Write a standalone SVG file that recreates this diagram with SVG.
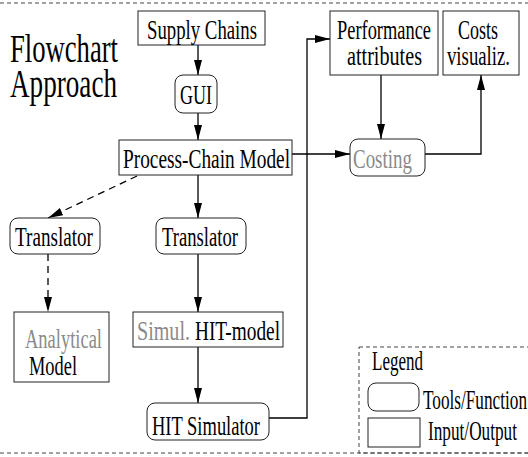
<svg xmlns="http://www.w3.org/2000/svg" width="528" height="457" viewBox="0 0 528 457">
<style>
text{font-family:'Liberation Serif','Times New Roman',Times,serif;font-size:27px;fill:#000}
.title{font-size:39px}
.gray{fill:#8a8a8a}
.io{fill:#fff;stroke:#222;stroke-width:1}
.tool{fill:#fff;stroke:#222;stroke-width:1}
.edge{fill:none;stroke:#000;stroke-width:1.3}
.dash{fill:none;stroke:#000;stroke-width:1.3;stroke-dasharray:7,5}
.frame{fill:none;stroke:#444;stroke-width:1;stroke-dasharray:4,3}
</style>
<defs>
<marker id="ah" markerUnits="userSpaceOnUse" markerWidth="16" markerHeight="10" refX="15" refY="4" orient="auto">
<path d="M0,0 L15,4 L0,8 z" fill="#000"/>
</marker>
</defs>
<rect width="528" height="457" fill="#fff"/>
<line class="frame" x1="0" y1="3" x2="528" y2="3"/>
<line class="frame" x1="0" y1="453" x2="528" y2="453"/>
<g font-family="Liberation Serif, serif">
<text class="title" x="10" y="62" textLength="108" lengthAdjust="spacingAndGlyphs">Flowchart</text>
<text class="title" x="10" y="97" textLength="107" lengthAdjust="spacingAndGlyphs">Approach</text>
</g>
<g id="connectors">
<path class="edge" d="M198,45 V75" marker-end="url(#ah)"/>
<path class="edge" d="M198,113 V140" marker-end="url(#ah)"/>
<path class="edge" d="M292,154 H350" marker-end="url(#ah)"/>
<path class="edge" d="M381,75 V139" marker-end="url(#ah)"/>
<path class="edge" d="M425,154 H481 V75" marker-end="url(#ah)"/>
<path class="edge" d="M269,418 H307 V39 H330" marker-end="url(#ah)"/>
<path class="edge" d="M198,175 V218" marker-end="url(#ah)"/>
<path class="edge" d="M198,254 V312" marker-end="url(#ah)"/>
<path class="edge" d="M198,347 V403" marker-end="url(#ah)"/>
<path class="dash" d="M137,176 L48,218" marker-end="url(#ah)"/>
<path class="dash" d="M48,254 V312" marker-end="url(#ah)"/>
</g>
<g id="supply-chains">
<rect class="io" x="138" y="11" width="127" height="34"/>
<text x="147" y="39" textLength="110" lengthAdjust="spacingAndGlyphs">Supply Chains</text>
</g>
<g id="gui">
<rect class="tool" x="175" y="75" width="42" height="38" rx="8"/>
<text x="180" y="104" textLength="32" lengthAdjust="spacingAndGlyphs">GUI</text>
</g>
<g id="process-chain-model">
<rect class="io" x="119" y="140" width="173" height="35"/>
<text x="123" y="168" textLength="167" lengthAdjust="spacingAndGlyphs">Process-Chain Model</text>
</g>
<g id="performance-attributes">
<rect class="io" x="330" y="11" width="108" height="64"/>
<text x="337" y="39" textLength="94" lengthAdjust="spacingAndGlyphs">Performance</text>
<text x="347" y="65" textLength="75" lengthAdjust="spacingAndGlyphs">attributes</text>
</g>
<g id="costs-visualiz">
<rect class="io" x="443" y="11" width="76" height="64"/>
<text x="458" y="39" textLength="40" lengthAdjust="spacingAndGlyphs">Costs</text>
<text x="447" y="65" textLength="63" lengthAdjust="spacingAndGlyphs">visualiz.</text>
</g>
<g id="costing">
<rect class="tool" x="350" y="139" width="75" height="37" rx="8"/>
<text class="gray" x="353" y="168" textLength="59" lengthAdjust="spacingAndGlyphs">Costing</text>
</g>
<g id="translator-left">
<rect class="tool" x="10" y="218" width="90" height="36" rx="8"/>
<text x="15" y="246" textLength="78" lengthAdjust="spacingAndGlyphs">Translator</text>
</g>
<g id="translator-mid">
<rect class="tool" x="156" y="218" width="90" height="36" rx="8"/>
<text x="162" y="246" textLength="76" lengthAdjust="spacingAndGlyphs">Translator</text>
</g>
<g id="analytical-model">
<rect class="io" x="14" y="312" width="95" height="70"/>
<text class="gray" x="25" y="348" textLength="77" lengthAdjust="spacingAndGlyphs">Analytical</text>
<text x="29" y="375" textLength="48" lengthAdjust="spacingAndGlyphs">Model</text>
</g>
<g id="simul-hit-model">
<rect class="io" x="133" y="312" width="150" height="35"/>
<text class="gray" x="137" y="340" textLength="53" lengthAdjust="spacingAndGlyphs">Simul.</text>
<text x="195" y="340" textLength="85" lengthAdjust="spacingAndGlyphs">HIT-model</text>
</g>
<g id="hit-simulator">
<rect class="tool" x="147" y="403" width="122" height="37" rx="8"/>
<text x="152" y="435" textLength="108" lengthAdjust="spacingAndGlyphs">HIT Simulator</text>
</g>
<g id="legend">
<rect class="frame" x="359" y="347" width="175" height="106"/>
<text x="372" y="370" textLength="51" lengthAdjust="spacingAndGlyphs">Legend</text>
<rect class="tool" x="368" y="383" width="51" height="28" rx="8"/>
<text x="423" y="409" textLength="104" lengthAdjust="spacingAndGlyphs">Tools/Function</text>
<rect class="io" x="368" y="418" width="52" height="29"/>
<text x="428" y="440" textLength="89" lengthAdjust="spacingAndGlyphs">Input/Output</text>
</g>
</svg>
